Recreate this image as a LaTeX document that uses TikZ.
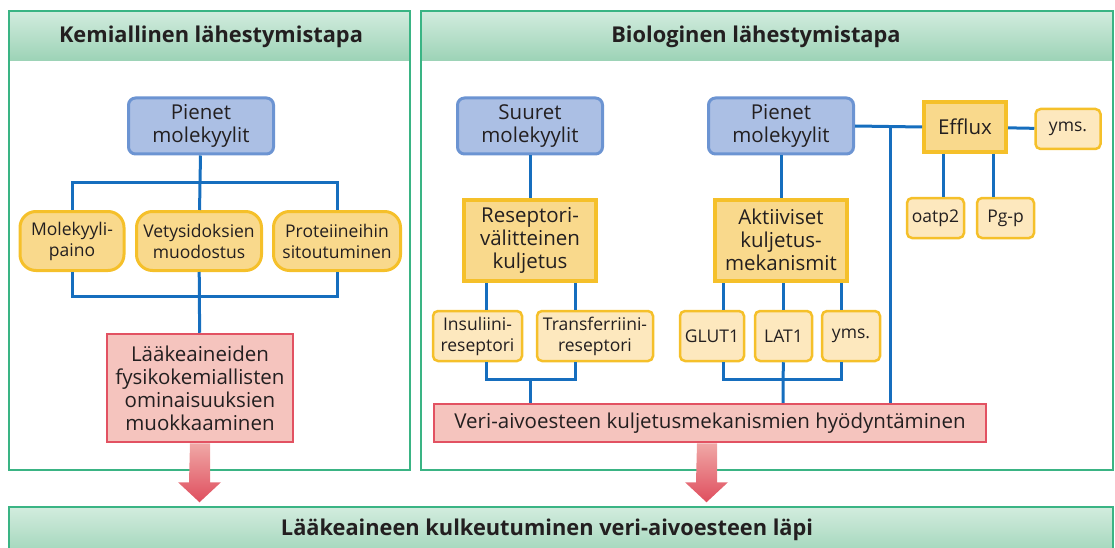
\documentclass[tikz,border=0pt]{standalone}
\usepackage{fontspec}
\setmainfont{Open Sans}
\definecolor{panelc}{RGB}{58,180,132}
\definecolor{hdtop}{RGB}{210,236,222}
\definecolor{hdbot}{RGB}{156,211,182}
\definecolor{bluefill}{RGB}{171,191,228}
\definecolor{blueedge}{RGB}{108,148,210}
\definecolor{linec}{RGB}{22,110,190}
\definecolor{yfill}{RGB}{249,217,140}
\definecolor{yedge}{RGB}{245,192,42}
\definecolor{lyfill}{RGB}{253,232,190}
\definecolor{rfill}{RGB}{245,196,190}
\definecolor{redge}{RGB}{226,82,98}
\definecolor{arrtop}{RGB}{240,168,166}
\definecolor{arrbot}{RGB}{223,78,94}
\definecolor{txt}{RGB}{35,31,32}

\begin{document}
\begin{tikzpicture} [x = 1pt, y = -1pt, text = txt,
	panel/.style = {draw = panelc, line width = 2.5pt},
	head/.style = {font = \bfseries\fontsize{21.8}{26}\selectfont},
	body/.style = {font = \fontsize{20.5}{23}\selectfont, align = center, inner sep = 0pt},
	small/.style = {font = \fontsize{17.5}{21}\selectfont, align = center, inner sep = 0pt},
	blue box/.style = {body, draw = blueedge, fill = bluefill, line width = 3pt, rounded corners = 7pt, minimum width = 145pt, minimum height = 56pt},
	yround/.style = {small, draw = yedge, fill = yfill, line width = 3pt, rounded corners = 16pt, minimum height = 59pt},
	ybox/.style = {body, draw = yedge, fill = yfill, line width = 4pt, minimum width = 132pt, minimum height = 81pt},
	ysmall/.style = {small, draw = yedge, fill = lyfill, line width = 2.5pt, rounded corners = 5pt, minimum height = 50pt},
	red box/.style = {body, draw = redge, fill = rfill, line width = 2.5pt},
	bline/.style = {draw = linec, line width = 3pt},
	block arrow/.style = {top color = arrtop, bottom color = arrbot}]
	\useasboundingbox (0,0) rectangle (1115,548);
	\clip (0,0) rectangle (1115,548);
	% panels
	\shade [top color = hdtop, bottom color = hdbot] (9,11) rectangle (410,61);
	\draw [panel] (9,11) rectangle (410,470);
	\shade [top color = hdtop, bottom color = hdbot] (421,11) rectangle (1113,61);
	\draw [panel] (421,11) rectangle (1113,470);
	\shade [top color = hdtop, bottom color = hdbot] (9,507) rectangle (1113,560);
	\draw [panel] (9,560) -- (9,507) -- (1113,507) -- (1113,560);
	\node [head] (hdA) at (211,37) {Kemiallinen lähestymistapa};
	\node [head] (hdB) at (756,37) {Biologinen lähestymistapa};
	\node [head] (hdC) at (547,530) {Lääkeaineen kulkeutuminen veri-aivoesteen läpi};
	% kemiallinen
	\node [blue box] (pmA) at (201,126) {Pienet\\molekyylit};
	\node [yround, minimum width = 104pt] (mp) at (72,241) {Molekyyli-\\paino};
	\node [yround, minimum width = 125pt] (vm) at (199,241) {Vetysidoksien\\muodostus};
	\node [yround, minimum width = 127pt] (ps) at (337,241) {Proteiineihin\\sitoutuminen};
	\node [red box, minimum width = 186pt, minimum height = 108pt] (rdA) at (200,388) {Lääkeaineiden\\fysikokemiallisten\\ominaisuuksien\\muokkaaminen};
	\coordinate (jA1) at (200,182);
	\coordinate (jA2) at (200,296);
	\draw [bline] (pmA) -- (vm);
	\draw [bline] (mp.north) |- (jA1) -| (ps.north);
	\draw [bline] (mp.south) |- (jA2) -| (ps.south);
	\draw [bline] (vm) -- (rdA);
	% biologinen
	\node [blue box] (sm) at (530,126) {Suuret\\molekyylit};
	\node [blue box] (pmB) at (781,126) {Pienet\\molekyylit};
	\node [ybox] (rv) at (530,240) {Reseptori-\\välitteinen\\kuljetus};
	\node [ybox] (ak) at (781,240) {Aktiiviset\\kuljetus-\\mekanismit};
	\node [ybox, minimum width = 82pt, minimum height = 50pt] (ef) at (965,127) {Efflux};
	\node [ysmall, minimum width = 65pt, minimum height = 40pt] (ymsA) at (1068,129) {yms.};
	\node [ysmall, minimum width = 57pt, minimum height = 40pt] (oa) at (935.5,218) {oatp2};
	\node [ysmall, minimum width = 57pt, minimum height = 40pt] (pg) at (1005.5,218) {Pg-p};
	\node [ysmall, minimum width = 89pt] (ins) at (477.5,336) {Insuliini-\\reseptori};
	\node [ysmall, minimum width = 116pt] (tr) at (595,336) {Transferriini-\\reseptori};
	\node [ysmall, minimum width = 64pt] (gl) at (712,336) {GLUT1};
	\node [ysmall, minimum width = 57pt] (la) at (783.5,336) {LAT1};
	\node [ysmall, minimum width = 58pt] (ymsB) at (851,336) {yms.};
	\node [red box, minimum width = 552pt, minimum height = 38pt] (rdB) at (710,423) {Veri-aivoesteen kuljetusmekanismien hyödyntäminen};
	\coordinate (jB1) at (530,379);
	\coordinate (jB2) at (783,379);
	\coordinate (jB3) at (890,127);
	\draw [bline] (sm) -- (rv);
	\draw [bline] (pmB) -- (ak);
	\draw [bline] ([xshift = 9pt]ins.north) -- ([xshift = 9pt]ins.north |- rv.south);
	\draw [bline] ([xshift = -20pt]tr.north) -- ([xshift = -20pt]tr.north |- rv.south);
	\draw [bline] ([xshift = 9pt]ins.south) |- (jB1) -| ([xshift = -20pt]tr.south);
	\draw [bline] (jB1) -- (jB1 |- rdB.north);
	\draw [bline] ([xshift = 11pt]gl.north) -- ([xshift = 11pt]gl.north |- ak.south);
	\draw [bline] (la) -- (la |- ak.south);
	\draw [bline] ([xshift = -10pt]ymsB.north) -- ([xshift = -10pt]ymsB.north |- ak.south);
	\draw [bline] ([xshift = 11pt]gl.south) |- (jB2) -| ([xshift = -10pt]ymsB.south);
	\draw [bline] (la.south) -- (jB2) -- (jB2 |- rdB.north);
	\draw [bline] (pmB.east) -- (ef.west);
	\draw [bline] (jB3) -- (jB3 |- rdB.north);
	\draw [bline] (ef) -- (ymsA);
	\draw [bline] ([xshift = -22pt]ef.south) -- ([xshift = -22pt]ef.south |- oa.north);
	\draw [bline] ([xshift = 28pt]ef.south) -- ([xshift = 28pt]ef.south |- pg.north);
	% nuolet
	\shade [block arrow] ([xshift = -10pt]rdA.south) -- ++(20,0) -- ++(0,39) -- ++(11,0) -- ++(-21.5,20) -- ++(-21.5,-20) -- ++(11,0) -- cycle;
	\shade [block arrow] ([xshift = -13pt]rdB.south) -- ++(20,0) -- ++(0,39) -- ++(11,0) -- ++(-21.5,20) -- ++(-21.5,-20) -- ++(11,0) -- cycle;
\end{tikzpicture}
\end{document}
